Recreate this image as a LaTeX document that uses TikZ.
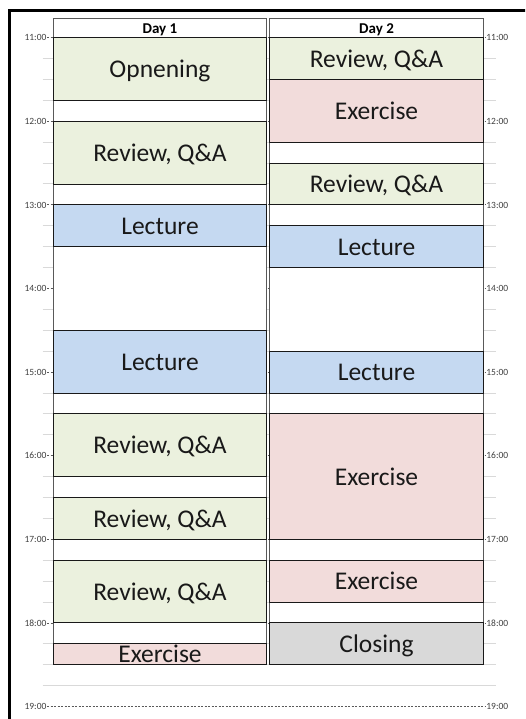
\documentclass[tikz,border=0pt]{standalone}
\usepackage{fontspec}
\setmainfont{Carlito}
\definecolor{evgreen}{HTML}{EBF1DE}
\definecolor{evpink}{HTML}{F2DCDB}
\definecolor{evblue}{HTML}{C5D9F1}
\definecolor{evgray}{HTML}{D9D9D9}
\definecolor{gridgray}{HTML}{D9D9D9}
\definecolor{hourgray}{HTML}{595959}
\definecolor{colgray}{HTML}{595959}
\newcommand\tY[1]{37.7+83.6*(#1-11)}
\tikzset{
  evbox/.style={draw=black!90, line width=0.9pt},
  colbox/.style={draw=colgray, line width=0.9pt, fill=white},
  evtext/.style={anchor=base, inner sep=0pt, text=black!90, font=\fontsize{25.5}{29}\selectfont},
  hdrtext/.style={anchor=base, inner sep=0pt, text=black, font=\bfseries\fontsize{15}{18}\selectfont},
  tlbl/.style={inner sep=0pt, text=black!75, font=\fontsize{9.5}{11}\selectfont},
  hourline/.style={draw=hourgray, line width=0.8pt, dash pattern=on 2pt off 1.5pt},
  quarterline/.style={draw=gridgray, line width=1pt},
  frameline/.style={draw=black, line width=2.6pt}
}
% #1 x-left, #2 x-right, #3 start, #4 end, #5 colour, #6 name, #7 text
\newcommand\ev[7]{%
  \path[evbox, fill=#5] (#1,{\tY{#3}}) rectangle (#2,{\tY{#4}});
  \node[evtext] (#6) at ({(#1+#2)/2},{\tY{(#3+#4)/2}+8.6}) {#7};
}
\begin{document}
\begin{tikzpicture}[x=1pt,y=-1pt]
\useasboundingbox[fill=white] (0,0) rectangle (525,719);
% frame
\begin{scope}
  \clip (0,0) rectangle (525,719);
  \draw[frameline] (9.6,730) -- (9.6,10.6) -- (540,10.6);
\end{scope}
% quarter grid lines
\foreach \i in {1,...,31}{
  \pgfmathtruncatemacro\r{mod(\i,4)}
  \ifnum\r>0
    \draw[quarterline] (42.5,{37.7+20.9*\i}) -- (496,{37.7+20.9*\i});
  \fi
}
% hour lines and labels
\foreach \h in {11,...,19}{
  \draw[hourline] (47,{\tY{\h}}) -- (485.5,{\tY{\h}});
  \node[tlbl, anchor=base east] (lt\h) at (46.6,{\tY{\h}+3.2}) {\h:00};
  \node[tlbl, anchor=base west] (rt\h) at (486.2,{\tY{\h}+3.2}) {\h:00};
}
% column bodies
\path[colbox] (53.3,{\tY{11}}) rectangle (266.7,{\tY{18.5}});
\path[colbox] (269.7,{\tY{11}}) rectangle (483.3,{\tY{18.5}});
% headers
\path[colbox] (53.3,18) rectangle (266.7,{\tY{11}});
\path[colbox] (269.7,18) rectangle (483.3,{\tY{11}});
\node[hdrtext] (day1) at (160,33.2) {Day 1};
\node[hdrtext] (day2) at (376.5,33.2) {Day 2};
% Day 1
\ev{53.3}{266.7}{11}{11.75}{evgreen}{d1a}{Opnening}
\ev{53.3}{266.7}{12}{12.75}{evgreen}{d1b}{Review, Q\&A}
\ev{53.3}{266.7}{13}{13.5}{evblue}{d1c}{Lecture}
\ev{53.3}{266.7}{14.5}{15.25}{evblue}{d1d}{Lecture}
\ev{53.3}{266.7}{15.5}{16.25}{evgreen}{d1e}{Review, Q\&A}
\ev{53.3}{266.7}{16.5}{17}{evgreen}{d1f}{Review, Q\&A}
\ev{53.3}{266.7}{17.25}{18}{evgreen}{d1g}{Review, Q\&A}
\ev{53.3}{266.7}{18.25}{18.5}{evpink}{d1h}{Exercise}
% Day 2
\ev{269.7}{483.3}{11}{11.5}{evgreen}{d2a}{Review, Q\&A}
\ev{269.7}{483.3}{11.5}{12.25}{evpink}{d2b}{Exercise}
\ev{269.7}{483.3}{12.5}{13}{evgreen}{d2c}{Review, Q\&A}
\ev{269.7}{483.3}{13.25}{13.75}{evblue}{d2d}{Lecture}
\ev{269.7}{483.3}{14.75}{15.25}{evblue}{d2e}{Lecture}
\ev{269.7}{483.3}{15.5}{17}{evpink}{d2f}{Exercise}
\ev{269.7}{483.3}{17.25}{17.75}{evpink}{d2g}{Exercise}
\ev{269.7}{483.3}{18}{18.5}{evgray}{d2h}{Closing}
\end{tikzpicture}
\end{document}
